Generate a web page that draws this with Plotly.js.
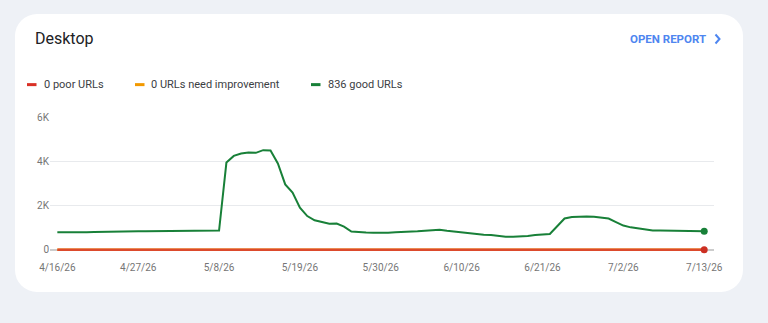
<!DOCTYPE html>
<html>
<head>
<meta charset="utf-8">
<script src="https://cdn.plot.ly/plotly-3.0.1.min.js"></script>
<style>
  html, body { margin:0; padding:0; width:768px; height:323px; overflow:hidden; background:#eef1f6; font-family: Roboto, "Noto Sans", sans-serif; }
  #card { position:absolute; left:15px; top:14px; width:728px; height:278px; background:#ffffff; border-radius:22px; }
  #chart { position:absolute; left:0; top:0; width:768px; height:323px; }
</style>
</head>
<body>
<div id="card"></div>
<div id="chart"></div>
<script>
// ---- data ----
const startDate = '2026-04-16';
const goodUrls = [
  786,780,782,785,790,800,810,815,820,825,
  828,830,835,840,845,848,850,852,855,858,
  860,862,864,3940,4240,4350,4390,4380,4500,4490,
  3900,2950,2580,1900,1520,1330,1250,1170,1180,1045,
  820,790,775,765,760,770,785,790,810,830,
  860,890,905,860,820,790,760,700,680,660,
  630,580,585,590,620,660,690,712,1060,1410,
  1480,1500,1500,1490,1460,1410,1250,1090,1010,960,
  910,870,865,865,865,860,840,836,836
];
const poorUrls = goodUrls.map(() => 0);
const needImprovementUrls = goodUrls.map(() => 0);
const xTickLabels = ['4/16/26','4/27/26','5/8/26','5/19/26','5/30/26','6/10/26','6/21/26','7/2/26','7/13/26'];
const yTickVals = [0, 2000, 4000, 6000];
const yTickText = ['0', '2K', '4K', '6K'];

// build the daily date axis
function addDays(s, n) {
  const d = new Date(s + 'T00:00:00Z');
  d.setUTCDate(d.getUTCDate() + n);
  return d.toISOString().slice(0, 10);
}
const dates = goodUrls.map((_, i) => addDays(startDate, i));
const tickDates = xTickLabels.map((_, i) => addDays(startDate, i * 11));
const last = dates.length - 1;

const RED = '#d93025', RED_LINE = '#dc4a2c', ORANGE = '#f29900', GREEN = '#188038';

// ---- pixel helpers for decoration placement ----
const L = 50, R = 714, T = 117.3, B = 253;
const px2x = p => (p - L) / (R - L);
const py2y = p => (B - p) / (B - T);

const traces = [
  { x: dates, y: needImprovementUrls, mode: 'lines', name: 'URLs need improvement',
    line: { color: ORANGE, width: 2.5 }, hoverinfo: 'skip' },
  { x: dates, y: poorUrls, mode: 'lines', name: 'poor URLs',
    line: { color: RED_LINE, width: 2.5 }, hoverinfo: 'skip' },
  { x: dates, y: goodUrls, mode: 'lines', name: 'good URLs',
    line: { color: GREEN, width: 2 }, hoverinfo: 'skip' },
  { x: [dates[last]], y: [goodUrls[last]], mode: 'markers', name: 'good end',
    marker: { color: GREEN, size: 7 }, cliponaxis: false, hoverinfo: 'skip' },
  { x: [dates[last]], y: [poorUrls[last]], mode: 'markers', name: 'poor end',
    marker: { color: '#cc2f22', size: 7 }, cliponaxis: false, hoverinfo: 'skip' }
];

const legendItems = [
  { text: poorUrls[last] + ' poor URLs', color: RED, x0: 27, tx: 42 },
  { text: needImprovementUrls[last] + ' URLs need improvement', color: ORANGE, x0: 135, tx: 149 },
  { text: goodUrls[last] + ' good URLs', color: GREEN, x0: 311, tx: 326 }
];

const shapes = legendItems.map(it => ({
  type: 'line', xref: 'paper', yref: 'paper',
  x0: px2x(it.x0), x1: px2x(it.x0 + 9.5), y0: py2y(85), y1: py2y(85),
  line: { color: it.color, width: 3 }
}));
// chevron for OPEN REPORT
shapes.push({
  type: 'path', xref: 'paper', yref: 'paper',
  path: `M ${px2x(715.5)} ${py2y(35)} L ${px2x(719.5)} ${py2y(39.5)} L ${px2x(715.5)} ${py2y(44)}`,
  line: { color: '#4e86f0', width: 2 }
});

const annotations = legendItems.map(it => ({
  xref: 'paper', yref: 'paper', x: px2x(it.tx), y: py2y(85),
  xanchor: 'left', yanchor: 'middle', showarrow: false,
  text: it.text, font: { family: 'Roboto', size: 11, color: '#3c4043' }
}));
annotations.push({
  xref: 'paper', yref: 'paper', x: px2x(708), y: py2y(39.5),
  xanchor: 'right', yanchor: 'middle', showarrow: false,
  text: '<b>OPEN REPORT</b>', font: { family: 'Roboto', size: 11.5, color: '#4e86f0' }
});

const layout = {
  width: 768, height: 323,
  margin: { l: L, r: 768 - R, t: T, b: 323 - B, pad: 0 },
  paper_bgcolor: 'rgba(0,0,0,0)',
  plot_bgcolor: 'rgba(0,0,0,0)',
  showlegend: false,
  title: { text: 'Desktop', xref: 'container', yref: 'container', x: 35 / 768, xanchor: 'left',
           y: 1 - 38 / 323, yanchor: 'middle', font: { family: 'Roboto', size: 16, color: '#202124' } },
  xaxis: {
    type: 'date',
    range: [addDays(startDate, -1) + ' 00:00', addDays(startDate, 89) + ' 08:00'],
    tickvals: tickDates, ticktext: xTickLabels,
    showgrid: false, zeroline: false, showline: false, ticks: '',
    ticklabelstandoff: 7,
    tickfont: { family: 'Roboto', size: 10, color: '#757575' },
    fixedrange: true
  },
  yaxis: {
    range: [-150, 6000],
    tickvals: yTickVals, ticktext: yTickText,
    showgrid: true, gridcolor: '#e8eaed', gridwidth: 1,
    zeroline: true, zerolinecolor: '#cccccc', zerolinewidth: 2,
    showline: false, ticks: '',
    tickfont: { family: 'Roboto', size: 10, color: '#757575' },
    fixedrange: true
  },
  shapes: shapes,
  annotations: annotations
};

Plotly.newPlot('chart', traces, layout, { displayModeBar: false, staticPlot: true });
</script>
</body>
</html>
